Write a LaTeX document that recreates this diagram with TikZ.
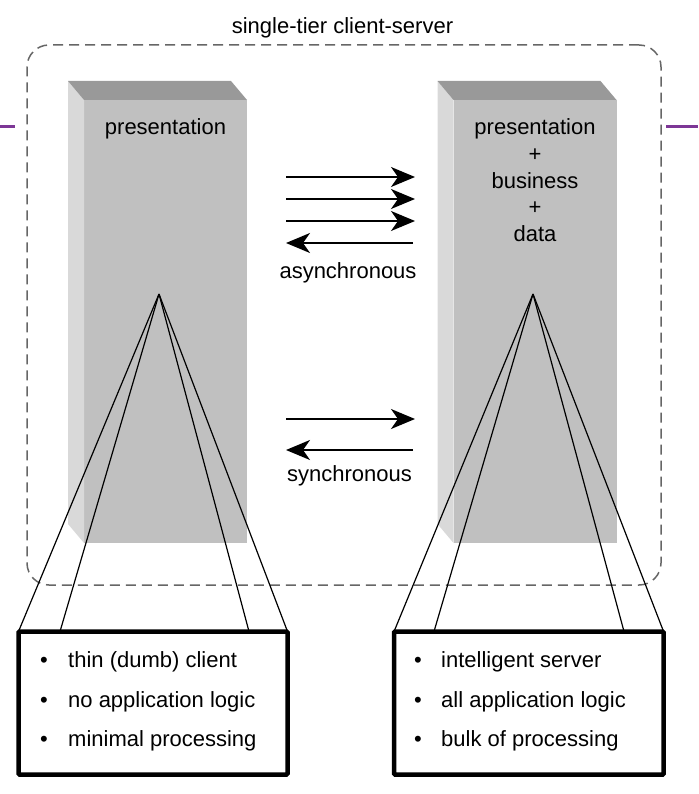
\documentclass[tikz,border=0pt]{standalone}
\usepackage{fontspec}
\setmainfont{Liberation Sans}
\usetikzlibrary{arrows.meta}
\definecolor{topgray}{RGB}{153,153,153}
\definecolor{frontgray}{RGB}{192,192,192}
\definecolor{sidegray}{RGB}{217,217,217}
\definecolor{dashgray}{RGB}{102,102,102}
\definecolor{purp}{RGB}{125,55,150}
\begin{document}
\begin{tikzpicture}[x=1pt,y=-1pt,
  font=\fontsize{22}{26.5}\selectfont,
  container/.style={draw=dashgray, line width=1.5pt, dash pattern=on 10pt off 6pt,
    rounded corners=22pt, minimum width=634pt, minimum height=540pt, inner sep=0pt},
  front/.style={fill=frontgray, inner sep=0pt, outer sep=0pt,
    minimum width=163pt, minimum height=443pt},
  lbl/.style={inner sep=0pt},
  flow/.style={line width=1.7pt, -{Stealth[length=24pt,width=20pt,inset=7pt]}},
  fan/.style={line width=1.2pt},
  bulletbox/.style={draw, line width=4.5pt, fill=white, inner sep=0pt, outer sep=0pt,
    minimum width=269pt, minimum height=143pt, rounded corners=1pt},
  purpline/.style={purp, line width=3pt}
]
\useasboundingbox (0,0) rectangle (698,794);

% container
\node[container] (tier) at (344,315) {};
\node[lbl, anchor=base] (title) at (342.5,34) {single-tier client-server};

% purple lines
\coordinate (pl1) at (0,127);
\coordinate (pl2) at (15,127);
\coordinate (pr1) at (666,127);
\coordinate (pr2) at (698,127);
\draw[purpline] (pl1) -- (pl2);
\draw[purpline] (pr1) -- (pr2);

% left pillar
\node[front] (lp) at (165.5,321.5) {};
\fill[sidegray] (lp.north west) -- ++(-16,-19) -- ++(0,443) -- (lp.south west) -- cycle;
\fill[topgray] (lp.north west) -- ++(-16,-19) -- ++(163,0) -- (lp.north east) -- cycle;
\node[lbl, anchor=base] (lpt) at (165.5,135) {presentation};

% right pillar
\node[front] (rp) at (535,321.5) {};
\fill[sidegray] (rp.north west) -- ++(-16,-19) -- ++(0,443) -- (rp.south west) -- cycle;
\fill[topgray] (rp.north west) -- ++(-16,-19) -- ++(163,0) -- (rp.north east) -- cycle;
\node[lbl, anchor=base, align=center] (rpt) at (535,241) {presentation\\+\\business\\+\\data};

% asynchronous arrows
\coordinate (a1s) at (286,177); \coordinate (a1e) at (415,177);
\coordinate (a2s) at (286,199); \coordinate (a2e) at (415,199);
\coordinate (a3s) at (286,221); \coordinate (a3e) at (415,221);
\coordinate (a4s) at (413,243); \coordinate (a4e) at (286,243);
\draw[flow] (a1s) -- (a1e);
\draw[flow] (a2s) -- (a2e);
\draw[flow] (a3s) -- (a3e);
\draw[flow] (a4s) -- (a4e);
\node[lbl, anchor=base] (async) at (348,278) {asynchronous};

% synchronous arrows
\coordinate (s1s) at (286,419); \coordinate (s1e) at (415,419);
\coordinate (s2s) at (413,450); \coordinate (s2e) at (286,450);
\draw[flow] (s1s) -- (s1e);
\draw[flow] (s2s) -- (s2e);
\node[lbl, anchor=base] (sync) at (349.5,481) {synchronous};

% boxes
\node[bulletbox, minimum width=269pt] (lbox) at (153,703) {};
\node[bulletbox, minimum width=269.5pt] (rbox) at (528.8,703) {};

% fan lines
\coordinate (lapex) at (159,294);
\coordinate (rapex) at (533,294);
\coordinate (lf2) at (60,631.5);
\coordinate (lf3) at (249,631.5);
\coordinate (rf2) at (434,631.5);
\coordinate (rf3) at (624,631.5);
\draw[fan] (lapex) -- (lbox.north west);
\draw[fan] (lapex) -- (lf2);
\draw[fan] (lapex) -- (lf3);
\draw[fan] (lapex) -- (lbox.north east);
\draw[fan] (rapex) -- (rbox.north west);
\draw[fan] (rapex) -- (rf2);
\draw[fan] (rapex) -- (rf3);
\draw[fan] (rapex) -- (rbox.north east);

% box texts
\node[lbl, anchor=base] (lb1) at (44,667) {•};
\node[lbl, anchor=base] (lb2) at (44,707) {•};
\node[lbl, anchor=base] (lb3) at (44,746) {•};
\node[lbl, anchor=base west] (lt1) at (68,667) {thin (dumb) client};
\node[lbl, anchor=base west] (lt2) at (68,707) {no application logic};
\node[lbl, anchor=base west] (lt3) at (68,746) {minimal processing};
\node[lbl, anchor=base] (rb1) at (418,667) {•};
\node[lbl, anchor=base] (rb2) at (418,707) {•};
\node[lbl, anchor=base] (rb3) at (418,746) {•};
\node[lbl, anchor=base west] (rt1) at (441,667) {intelligent server};
\node[lbl, anchor=base west] (rt2) at (441,707) {all application logic};
\node[lbl, anchor=base west] (rt3) at (441,746) {bulk of processing};
\end{tikzpicture}
\end{document}
